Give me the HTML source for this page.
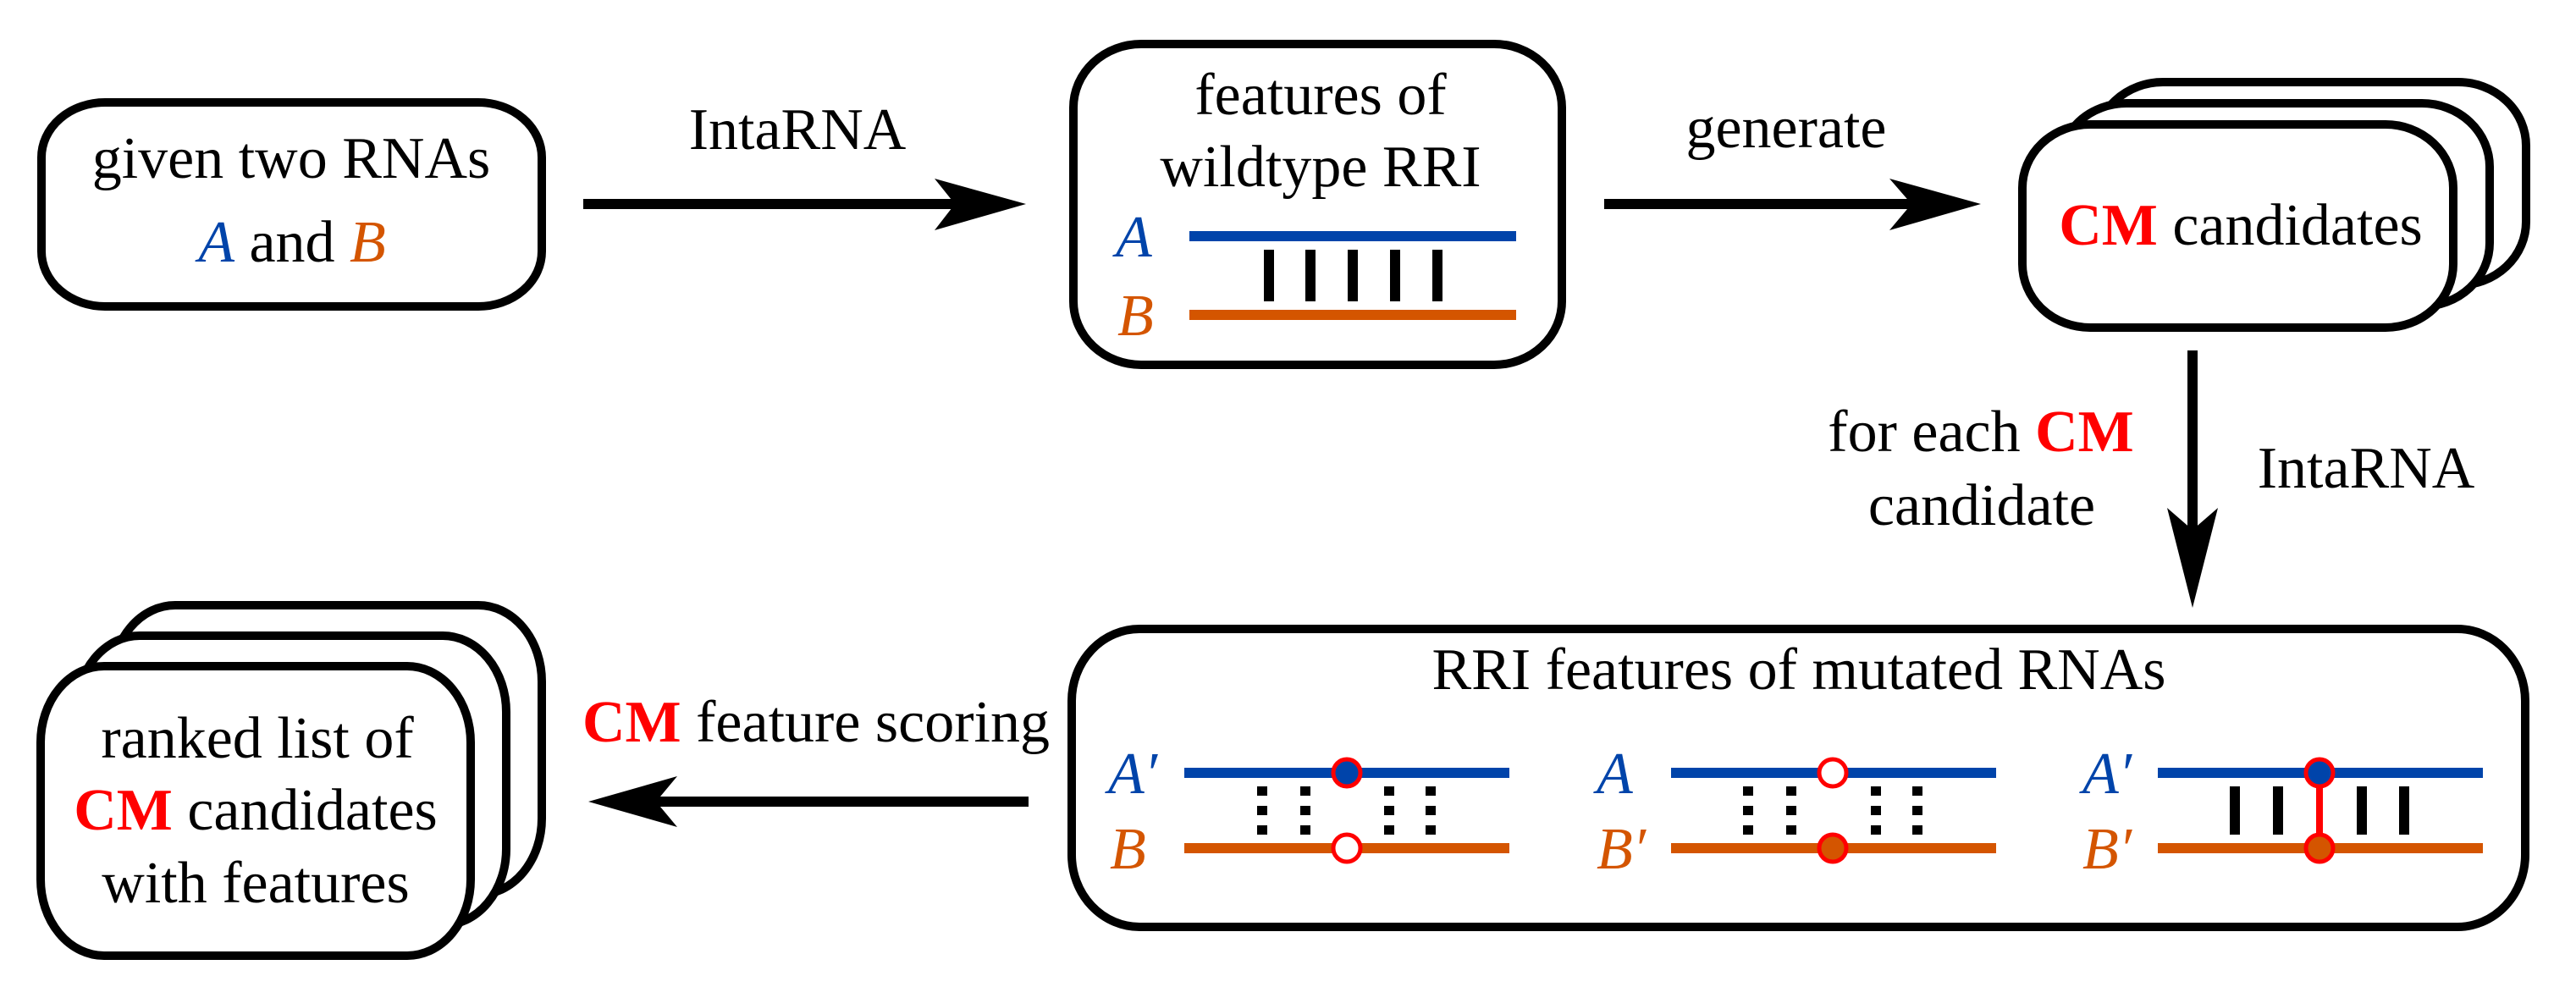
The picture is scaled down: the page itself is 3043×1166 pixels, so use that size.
<!DOCTYPE html>
<html><head><meta charset="utf-8"><style>html,body{margin:0;padding:0;background:#fff}svg{display:block}</style></head>
<body>
<svg width="3043" height="1166" viewBox="0 0 3043 1166" xmlns="http://www.w3.org/2000/svg" font-family="'Liberation Serif', 'Times New Roman', 'DejaVu Serif', serif" font-size="70">
<g fill="#fff" stroke="#000" stroke-width="10">
<rect x="49" y="121" width="591" height="241" rx="75" ry="65"/>
<rect x="1268" y="52" width="577" height="379" rx="80" ry="75"/>
<rect x="2475" y="97" width="509" height="240" rx="80" ry="75"/>
<rect x="2432" y="122" width="509" height="240" rx="80" ry="75"/>
<rect x="2389" y="147" width="509" height="240" rx="80" ry="75"/>
<rect x="1266" y="743" width="1717" height="352" rx="80" ry="85"/>
<rect x="132" y="715" width="508" height="342" rx="75" ry="90"/>
<rect x="90" y="751" width="508" height="342" rx="75" ry="90"/>
<rect x="48" y="787" width="508" height="342" rx="75" ry="90"/>
</g>
<g fill="#000">
<rect x="689" y="235" width="440" height="12"/>
<path d="M1212,241 L1104,211 L1128,241 L1104,272 Z"/>
<rect x="1895" y="235" width="370" height="12"/>
<path d="M2340,241 L2232,211 L2258,241 L2232,272 Z"/>
<rect x="2584" y="414" width="12" height="220"/>
<path d="M2590,718 L2560,600 L2590,626 L2620,600 Z"/>
<rect x="770" y="941" width="445" height="12"/>
<path d="M695,947 L800,917 L775,947 L800,977 Z"/>
</g>
<g font-family="'Liberation Serif', 'Times New Roman', 'DejaVu Serif', serif">
<text x="344" y="210" text-anchor="middle">given two RNAs</text>
<text x="345" y="309" text-anchor="middle"><tspan fill="#0044aa" font-style="italic">A</tspan> and <tspan fill="#d45500" font-style="italic">B</tspan></text>
<text x="942" y="176" text-anchor="middle">IntaRNA</text>
<text x="1560" y="135" text-anchor="middle">features of</text>
<text x="1560" y="220" text-anchor="middle">wildtype RRI</text>
<text x="2110" y="174" text-anchor="middle">generate</text>
<text x="2647" y="289" text-anchor="middle"><tspan fill="#ff0000" font-weight="bold">CM</tspan> candidates</text>
<text x="2340" y="533" text-anchor="middle">for each <tspan fill="#ff0000" font-weight="bold">CM</tspan></text>
<text x="2341" y="620" text-anchor="middle">candidate</text>
<text x="2795" y="576" text-anchor="middle">IntaRNA</text>
<text x="2125" y="814" text-anchor="middle">RRI features of mutated RNAs</text>
<text x="964" y="876" text-anchor="middle"><tspan fill="#ff0000" font-weight="bold">CM</tspan> feature scoring</text>
<text x="304" y="895" text-anchor="middle">ranked list of</text>
<text x="302" y="980" text-anchor="middle"><tspan fill="#ff0000" font-weight="bold">CM</tspan> candidates</text>
<text x="302" y="1066" text-anchor="middle">with features</text>
<g font-style="italic">
<text x="1318" y="303" fill="#0044aa">A</text>
<text x="1320" y="396" fill="#d45500">B</text>
<text x="1309" y="937" fill="#0044aa">A′</text>
<text x="1311" y="1026" fill="#d45500">B</text>
<text x="1886" y="937" fill="#0044aa">A</text>
<text x="1886" y="1026" fill="#d45500">B′</text>
<text x="2460" y="937" fill="#0044aa">A′</text>
<text x="2460" y="1026" fill="#d45500">B′</text>
</g>
</g>
<rect x="1405" y="273" width="386" height="12" fill="#0044aa"/>
<rect x="1405" y="366" width="386" height="12" fill="#d45500"/>
<g fill="#000">
<rect x="1493" y="295" width="12" height="61"/>
<rect x="1542" y="295" width="12" height="61"/>
<rect x="1592" y="295" width="12" height="61"/>
<rect x="1642" y="295" width="12" height="61"/>
<rect x="1692" y="295" width="12" height="61"/>
</g>
<g>
<rect x="1399" y="907" width="384" height="12" fill="#0044aa"/>
<rect x="1399" y="996" width="384" height="12" fill="#d45500"/>
<rect x="1974" y="907" width="384" height="12" fill="#0044aa"/>
<rect x="1974" y="996" width="384" height="12" fill="#d45500"/>
<rect x="2549" y="907" width="384" height="12" fill="#0044aa"/>
<rect x="2549" y="996" width="384" height="12" fill="#d45500"/>
</g>
<g stroke="#000" stroke-width="12" stroke-dasharray="11 12">
<line x1="1491" y1="929" x2="1491" y2="988"/>
<line x1="1542" y1="929" x2="1542" y2="988"/>
<line x1="1641" y1="929" x2="1641" y2="988"/>
<line x1="1690" y1="929" x2="1690" y2="988"/>
<line x1="2065" y1="929" x2="2065" y2="988"/>
<line x1="2116" y1="929" x2="2116" y2="988"/>
<line x1="2216" y1="929" x2="2216" y2="988"/>
<line x1="2265" y1="929" x2="2265" y2="988"/>
</g>
<g fill="#000">
<rect x="2634" y="929" width="12" height="57"/>
<rect x="2685" y="929" width="12" height="57"/>
<rect x="2784" y="929" width="12" height="57"/>
<rect x="2834" y="929" width="12" height="57"/>
</g>
<rect x="2736" y="913" width="8" height="89" fill="#ff0000"/>
<g stroke="#ff0000" stroke-width="5">
<circle cx="1591" cy="913" r="16" fill="#0044aa"/>
<circle cx="1591" cy="1002" r="16" fill="#fff"/>
<circle cx="2165" cy="913" r="16" fill="#fff"/>
<circle cx="2165" cy="1002" r="16" fill="#d45500"/>
<circle cx="2740" cy="913" r="16" fill="#0044aa"/>
<circle cx="2740" cy="1002" r="16" fill="#d45500"/>
</g>
</svg>
</body></html>
